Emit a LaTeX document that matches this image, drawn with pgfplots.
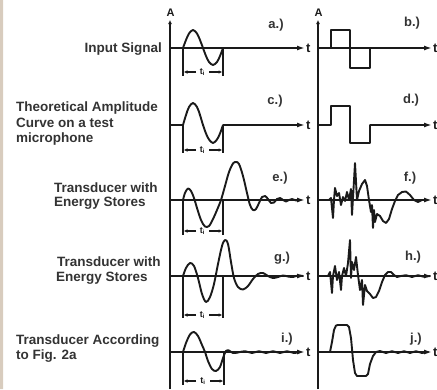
\documentclass[border=0pt]{standalone}
\usepackage{fontspec}
\setmainfont{Liberation Sans}
\usepackage{pgfplots}
\pgfplotsset{compat=1.18}
\usetikzlibrary{arrows.meta}
\definecolor{ink}{HTML}{1A1A1A}
\definecolor{txt}{HTML}{333333}
\definecolor{strip}{HTML}{D8CCBE}
\tikzset{
  sig/.style={ink,line width=1.9pt,line join=round,line cap=round},
  sigs/.style={sig,smooth,tension=0.55},
  ax/.style={ink,line width=1.8pt},
  axarr/.style={ink,line width=1.7pt,-{Latex[length=8pt,width=5pt]}},
  vaxarr/.style={ink,line width=1.8pt,-{Latex[length=4pt,width=4pt]}},
  brk/.style={ink,line width=1.3pt},
  brkarr/.style={ink,line width=1.2pt,-{Latex[length=4pt,width=3.5pt]}},
  lab/.style={font=\fontsize{13.5}{15}\selectfont\bfseries,text=txt,inner sep=0pt},
  plab/.style={font=\fontsize{13}{15}\selectfont\bfseries,text=txt,inner sep=0pt},
  tlab/.style={font=\fontsize{13}{14}\selectfont\bfseries,text=ink,inner sep=0pt},
  tilab/.style={font=\fontsize{9}{10}\selectfont\bfseries,text=ink,inner sep=0pt},
}
\begin{document}
\begin{tikzpicture}
\begin{axis}[width=437pt,height=389pt,scale only axis,
  xmin=0,xmax=437,ymin=0,ymax=389,y dir=reverse,hide axis,clip=false]
% left beige strip
\addplot[fill=strip,draw=none] coordinates {(0,0)(3,0)(3,389)(0,389)} \closedcycle;
% vertical axes
\addplot[vaxarr] coordinates {(170,389)(170,20)};
\addplot[vaxarr] coordinates {(318,389)(318,20)};
% horizontal axes, left column
\addplot[axarr] coordinates {(170,48)(305,48)};
\addplot[ax] coordinates {(170,125)(183,125)};
\addplot[axarr] coordinates {(223,125)(305,125)};
\addplot[axarr] coordinates {(170,200)(305,200)};
\addplot[axarr] coordinates {(170,276)(305,276)};
\addplot[axarr] coordinates {(170,352)(305,352)};
% horizontal axes, right column
\addplot[axarr] coordinates {(318,48)(432,48)};
\addplot[ax] coordinates {(318,125)(331,125)};
\addplot[axarr] coordinates {(370,125)(432,125)};
\addplot[axarr] coordinates {(318,200)(432,200)};
\addplot[axarr] coordinates {(318,276)(432,276)};
\addplot[axarr] coordinates {(318,352)(432,352)};
% a) input sine
\addplot[sigs] coordinates {(183,48)(186,40)(189,33.5)(193,30)(197,33.5)(200,40)(203,48)(206,56)(209,62)(213,65)(217,62)(220,56)(223,48)};
% c) theoretical
\addplot[sigs] coordinates {(183,125)(186,115)(189,107)(193,103)(197,107)(200,115)(203,125)(206,133.5)(209,139.5)(213,143)(217,139.5)(220,133.5)(223,125)};
% e)
\addplot[sigs] coordinates {(183,200)(185,193)(188,188.5)(191,191)(194,198)(197,208)(201,220)(205,226.5)(209,226)(213,219)(217,210)(221,200)(225,186)(229,172)(233,163.5)(236,162)(239,164)(243,176)(247,193)(250,205)(253,210)(256,209)(259,203)(262,197)(265,196)(268,199)(271,203)(274,202.5)(277,199)(280,198)(283,200)(286,201.5)(289,200)(292,199)(296,200.5)(300,200)};
% g)
\addplot[sigs] coordinates {(183,276)(186,268)(190,263)(194,266)(198,278)(202,294)(206,302)(210,297)(214,284)(218,264)(222,246)(225,240)(228,244)(231,262)(234,278)(238,287)(243,289.5)(248,286)(253,279)(258,274)(263,273)(268,276)(273,278)(278,277)(283,275.5)(288,276.5)(293,277)(298,275.5)(303,276)};
% i)
\addplot[sigs] coordinates {(183,352)(186,343)(190,334.5)(194,332)(198,336)(202,345)(205,352)(208,361)(212,369)(216,371)(220,367)(223,358)(226,351)(229,350.5)(233,353)(238,352.5)(245,351.2)(252,353)(259,351.2)(266,353)(273,351.2)(280,353)(287,351.2)(294,353)(300,352)};
% b) square
\addplot[sig] coordinates {(331,48)(331,30)(350,30)(350,68)(370,68)(370,48)};
% d) square
\addplot[sig] coordinates {(331,125)(331,106)(350,106)(350,143)(370,143)(370,125)};
% f)
\addplot[sig] coordinates {(329,200)(331,198)(333,218)(334,200)(335,188)(337,196)(339,193)(341,205)(343,197)(345,201)(347,192)(349,200)(351,189)(352,215)(353,198)(355,163)(357,200)(359,191)(362,184)(365,180)(367,186)(369,200)(371,212)(372,205)(373,228)(374,210)(375,222)(377,214)(380,216)(383,221)(386,223)(389,219)(392,209)(395,201)(398,195)(402,192)(406,191.5)(410,195)(414,200)(418,202)(422,200)};
% h)
\addplot[sig] coordinates {(328,276)(330,272)(332,293)(333,276)(335,266)(337,280)(339,272)(341,290)(342,276)(344,268)(346,276)(348,263)(350,240)(351,278)(352,262)(354,270)(356,257)(358,275)(360,290)(362,280)(363,305)(365,285)(367,291)(370,294)(373,298)(376,297)(379,291)(382,282)(385,275)(388,272)(391,272)(394,275)(397,277)(401,276)(406,275.2)(412,277)(418,275.2)(424,276.8)(430,276)};
% j)
\addplot[sig] coordinates {(330,352)(332,342)(334,330)(336,325.5)(338,325)(347,325)(349,327)(351,338)(353,360)(355,373)(357,376)(366,376)(368,374)(370,364)(373,356)(376,352)(380,351)(386,353)(392,351.2)(398,353)(404,351.2)(410,353)(416,351.2)(422,353)(428,352)};
% brackets t_i
\addplot[brk] coordinates {(183,48)(183,76)};
\addplot[brk] coordinates {(223,48)(223,76)};
\addplot[brkarr] coordinates {(196,72)(183.5,72)};
\addplot[brkarr] coordinates {(209,72)(222.5,72)};
\addplot[brk] coordinates {(183,125)(183,153)};
\addplot[brk] coordinates {(223,125)(223,153)};
\addplot[brkarr] coordinates {(196,150)(183.5,150)};
\addplot[brkarr] coordinates {(209,150)(222.5,150)};
\addplot[brk] coordinates {(183,200)(183,235)};
\addplot[brk] coordinates {(223,200)(223,235)};
\addplot[brkarr] coordinates {(196,231)(183.5,231)};
\addplot[brkarr] coordinates {(209,231)(222.5,231)};
\addplot[brk] coordinates {(183,276)(183,318)};
\addplot[brk] coordinates {(223,276)(223,318)};
\addplot[brkarr] coordinates {(196,315)(183.5,315)};
\addplot[brkarr] coordinates {(209,315)(222.5,315)};
\addplot[brk] coordinates {(183,352)(183,385)};
\addplot[brk] coordinates {(224,352)(224,385)};
\addplot[brkarr] coordinates {(196,381)(183.5,381)};
\addplot[brkarr] coordinates {(210,381)(223.5,381)};
\node[tilab] at (202.5,72) {t\textsubscript{i}};
\node[tilab] at (202.5,150) {t\textsubscript{i}};
\node[tilab] at (202.5,231) {t\textsubscript{i}};
\node[tilab] at (202.5,315) {t\textsubscript{i}};
\node[tilab] at (203,381) {t\textsubscript{i}};
% axis labels
\node[tilab,font=\fontsize{11}{12}\selectfont\bfseries] at (170.5,13) {A};
\node[tilab,font=\fontsize{11}{12}\selectfont\bfseries] at (318.5,13) {A};
\node[tlab,anchor=west] at (306,48) {t};
\node[tlab,anchor=west] at (306,125) {t};
\node[tlab,anchor=west] at (306,200) {t};
\node[tlab,anchor=west] at (306,276) {t};
\node[tlab,anchor=west] at (306,352) {t};
\node[tlab,anchor=west] at (433,48) {t};
\node[tlab,anchor=west] at (433,125) {t};
\node[tlab,anchor=west] at (433,200) {t};
\node[tlab,anchor=west] at (433,276) {t};
\node[tlab,anchor=west] at (433,352) {t};
% panel labels
\node[plab] at (276,25) {a.)};
\node[plab] at (412,23) {b.)};
\node[plab] at (275,101) {c.)};
\node[plab] at (411,100) {d.)};
\node[plab] at (280,178) {e.)};
\node[plab] at (410,178) {f.)};
\node[plab] at (282,258) {g.)};
\node[plab] at (413,257) {h.)};
\node[plab] at (287,339) {i.)};
\node[plab] at (416,339) {j.)};
% row labels
\node[lab,anchor=base east] at (162,52.8) {Input Signal};
\node[lab,anchor=base west] at (16,111.8) {Theoretical Amplitude};
\node[lab,anchor=base west] at (16,127.8) {Curve on a test};
\node[lab,anchor=base west] at (16,142.8) {microphone};
\node[lab,anchor=base west] at (54,192.8) {Transducer with};
\node[lab,anchor=base west] at (54,206.8) {Energy Stores};
\node[lab,anchor=base west] at (57,266.8) {Transducer with};
\node[lab,anchor=base west] at (56,281.8) {Energy Stores};
\node[lab,anchor=base west] at (16,344.8) {Transducer According};
\node[lab,anchor=base west] at (16,359.8) {to Fig. 2a};
\end{axis}
\pgfresetboundingbox
\useasboundingbox (0,0) rectangle (437pt,389pt);
\end{tikzpicture}
\end{document}
